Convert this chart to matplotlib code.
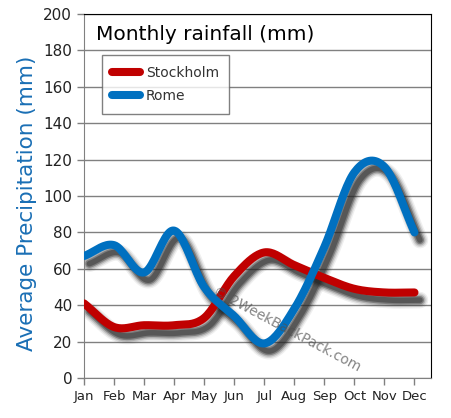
import numpy as np
import matplotlib
matplotlib.use('Agg')
from matplotlib import pyplot as plt

### DATA
months = ['Jan', 'Feb', 'Mar', 'Apr', 'May', 'Jun', 'Jul', 'Aug', 'Sep', 'Oct', 'Nov', 'Dec']
stockholm = [41, 28, 29, 29, 33, 56, 69, 62, 55, 49, 47, 47]
rome = [67, 73, 58, 81, 50, 34, 19, 38, 72, 113, 116, 80]
y_ticks = list(range(0, 201, 20))


def smooth(y, n=20):
    # catmull-rom path through the monthly points
    y = np.asarray(y, dtype=float)
    p = np.concatenate([[2 * y[0] - y[1]], y, [2 * y[-1] - y[-2]]])
    xs, ys = [], []
    for i in range(len(y) - 1):
        t = np.linspace(0, 1, n, endpoint=False)
        p0, p1, p2, p3 = p[i], p[i + 1], p[i + 2], p[i + 3]
        seg = 0.5 * (2 * p1 + (-p0 + p2) * t + (2 * p0 - 5 * p1 + 4 * p2 - p3) * t ** 2
                     + (-p0 + 3 * p1 - 3 * p2 + p3) * t ** 3)
        xs.append(i + t)
        ys.append(seg)
    xs.append([len(y) - 1])
    ys.append([y[-1]])
    return np.concatenate(xs), np.concatenate(ys)


fig = plt.figure(figsize=(4.51, 4.18), dpi=100)
ax = fig.add_axes([84 / 451, 1 - 378 / 418, (431 - 84) / 451, (378 - 14) / 418])

x = np.arange(len(months))
colors = {'Stockholm': '#c00000', 'Rome': '#0070c0'}
for name, vals in [('Stockholm', stockholm), ('Rome', rome)]:
    xs, ys = smooth(vals)
    # blurred drop shadow
    for lw, a in [(12, 0.07), (10, 0.12), (8, 0.2), (6, 0.35), (4, 0.4)]:
        ax.plot(xs + 0.18, ys - 4.2, color='#202020', lw=lw, alpha=a,
                solid_capstyle='round', zorder=2)
    ax.plot(xs, ys, color=colors[name], lw=5.8, solid_capstyle='round',
            label=name, zorder=3)

ax.set_xlim(0, 11.55)
ax.set_ylim(0, 200)
ax.set_xticks(x)
ax.set_xticklabels(months, fontsize=9.5, color='#222222')
ax.set_yticks(y_ticks)
ax.set_yticklabels([str(v) for v in y_ticks], fontsize=11, color='#222222')
ax.tick_params(axis='both', colors='#808080', labelcolor='#222222', length=5, width=1)
ax.grid(axis='y', color='#808080', lw=1)
ax.set_axisbelow(True)
for s in ['left', 'bottom']:
    ax.spines[s].set_color('#808080')
for s in ['top', 'right']:
    ax.spines[s].set_color('black')

ax.set_ylabel('Average Precipitation (mm)', color='#1a6fb5', fontsize=15.5)
ax.yaxis.set_label_coords(-0.135, 0.48)
ax.text(0.035, 0.945, 'Monthly rainfall (mm)', transform=ax.transAxes,
        fontsize=14.5, color='black', va='center')

leg = ax.legend(loc='upper left', bbox_to_anchor=(0.052, 0.887), fontsize=10,
                frameon=True, fancybox=False, handlelength=2.0, borderpad=0.75,
                labelspacing=0.7, handletextpad=0.4, borderaxespad=0)
leg.get_frame().set_edgecolor('#606060')
leg.get_frame().set_linewidth(1)
for t in leg.get_texts():
    t.set_color('#333333')

ax.text(0.585, 0.135, '\u00a9 2WeekBackPack.com', transform=ax.transAxes,
        rotation=-28, fontsize=10, color='#505050', alpha=0.7,
        ha='center', va='center', zorder=4)

fig.savefig('out.png', dpi=100)
